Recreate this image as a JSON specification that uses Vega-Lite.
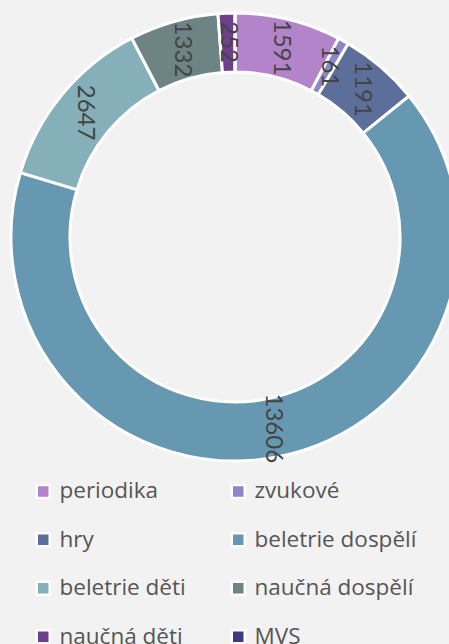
{
  "$schema": "https://vega.github.io/schema/vega-lite/v6.json",
  "width": 470,
  "height": 474,
  "padding": 0,
  "autosize": {"type": "pad"},
  "background": "#f2f2f2",
  "config": {"view": {"stroke": null}, "font": "Open Sans"},
  "data": {"values": [
    {"i": 1, "kategorie": "periodika", "pocet": 1591},
    {"i": 2, "kategorie": "zvukové", "pocet": 161},
    {"i": 3, "kategorie": "hry", "pocet": 1191},
    {"i": 4, "kategorie": "beletrie dospělí", "pocet": 13606},
    {"i": 5, "kategorie": "beletrie děti", "pocet": 2647},
    {"i": 6, "kategorie": "naučná dospělí", "pocet": 1332},
    {"i": 7, "kategorie": "naučná děti", "pocet": 252},
    {"i": 8, "kategorie": "MVS", "pocet": 0}
  ]},
  "encoding": {
    "theta": {"field": "pocet", "type": "quantitative", "stack": true},
    "order": {"field": "i", "type": "quantitative"}
  },
  "layer": [
    {
      "mark": {"type": "arc", "outerRadius": 224, "innerRadius": 165, "stroke": "white", "strokeWidth": 3},
      "encoding": {
        "color": {
          "field": "kategorie", "type": "nominal",
          "scale": {
            "domain": ["periodika", "zvukové", "hry", "beletrie dospělí", "beletrie děti", "naučná dospělí", "naučná děti", "MVS"],
            "range": ["#b384c9", "#8b87c9", "#5c6f9b", "#6699b1", "#85b0b9", "#6e8384", "#6e3f8b", "#3d3a85"]
          },
          "legend": {
            "orient": "none", "legendX": 32, "legendY": 480,
            "title": null, "columns": 2, "direction": "horizontal",
            "symbolType": "square", "symbolSize": 169,
            "symbolStrokeColor": "white", "symbolStrokeWidth": 2.5, "symbolOpacity": 1,
            "labelFontSize": 22.5, "labelColor": "#555555", "labelFont": "Open Sans",
            "labelOffset": 5, "rowPadding": 24.5, "columnPadding": 40, "labelLimit": 300
          }
        }
      }
    },
    {
      "transform": [{"filter": "datum.pocet > 0"}],
      "mark": {"type": "text", "radius": 195, "angle": 90, "fontSize": 24, "color": "#444444", "font": "Lato"},
      "encoding": {"text": {"field": "pocet", "type": "quantitative", "format": "d"}}
    }
  ]
}
